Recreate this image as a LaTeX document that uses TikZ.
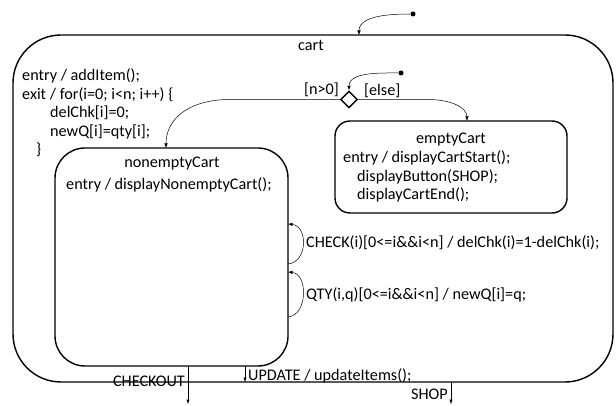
\documentclass[tikz,border=0pt]{standalone}
\usepackage{fontspec}
\setmainfont{Carlito}
\usetikzlibrary{shapes.geometric,arrows.meta}

\tikzset{
  statebox/.style={draw,line width=1.4pt,rounded corners=#1,inner sep=0pt},
  trans/.style={-{Latex[length=4.5pt,width=3.5pt]},line width=0.5pt},
  txt/.style={inner sep=0pt,anchor=base west,align=left,
    font=\fontsize{16.2}{18.5}\selectfont},
  initdot/.style={circle,fill,inner sep=0pt,minimum size=5pt},
}

\begin{document}
\begin{tikzpicture}[x=1pt,y=-1pt]
  \useasboundingbox (0,0) rectangle (616,406);

  % STATES
  \node[statebox=48pt,minimum width=600pt,minimum height=347pt] (cart) at (313,208.5) {};
  \node[statebox=30pt,minimum width=233pt,minimum height=218pt] (nonempty) at (171.5,257) {};
  \node[statebox=15pt,minimum width=232pt,minimum height=92pt] (empty) at (451,167) {};
  \node[draw,diamond,line width=1.4pt,minimum size=17pt,inner sep=0pt] (dec) at (349,99.5) {};

  \node[initdot] (init1) at (413,14) {};
  \node[initdot] (init2) at (401,73) {};

  % entry points on the borders
  \coordinate (cartin) at (359,35);
  \coordinate (nein) at (166,148);
  \coordinate (emin) at (467,121);
  \coordinate (chkout) at (288,264);
  \coordinate (chkin) at (288,224);
  \coordinate (qtyout) at (288,317);
  \coordinate (qtyin) at (288,272);
  \coordinate (coA) at (188,366);
  \coordinate (coB) at (188,404);
  \coordinate (upA) at (245,366);
  \coordinate (upB) at (245,382);
  \coordinate (shA) at (451,382);
  \coordinate (shB) at (451,404);

  % TEXTS (multi-line nodes: base is the last line)
  \node[txt,anchor=base] at (311,51) {cart};
  \node[txt] at (22,155) {entry / addItem();\\
    exit / for(i=0; i<n; i++) \{\\
    \hspace*{28pt}delChk[i]=0;\\
    \hspace*{28pt}newQ[i]=qty[i];\\
    \hspace*{14pt}\}};
  \node[txt,anchor=base] at (451,144) {emptyCart};
  \node[txt] at (343,200) {entry / displayCartStart();\\
    \hspace*{14pt}displayButton(SHOP);\\
    \hspace*{14pt}displayCartEnd();};
  \node[txt,anchor=base] at (172,168) {nonemptyCart};
  \node[txt] at (66,190) {entry / displayNonemptyCart();};

  % ARROWS
  \draw[trans] (init1) to[out=180,in=90,looseness=0.9] (cartin);
  \draw[trans] (init2) to[out=180,in=90,looseness=0.9] (dec.north);
  \draw[trans] (dec.west) -- (230,99.5) .. controls (190,99.5) and (166,118) .. (nein);
  \draw[trans] (dec.east) -- (428,99.5) .. controls (452,99.5) and (467,108) .. (emin);
  \draw[trans] (chkout) .. controls (308,262) and (308,226) .. (chkin);
  \draw[trans] (qtyout) .. controls (308,315) and (308,274) .. (qtyin);
  \draw[trans] (coA) -- (coB);
  \draw[trans] (upA) -- (upB);
  \draw[trans] (shA) -- (shB);

  % NOTES
  \node[txt] at (304,95) {[n>0]};
  \node[txt] at (364,96) {[else]};
  \node[txt] at (306,248) {CHECK(i)[0<=i\&\&i<n] / delChk(i)=1-delChk(i);};
  \node[txt] at (306,299) {QTY(i,q)[0<=i\&\&i<n] / newQ[i]=q;};
  \node[txt,anchor=base east] at (185,386) {CHECKOUT};
  \node[txt] at (248,380) {UPDATE / updateItems();};
  \node[txt,anchor=base east] at (448,399) {SHOP};
\end{tikzpicture}
\end{document}
